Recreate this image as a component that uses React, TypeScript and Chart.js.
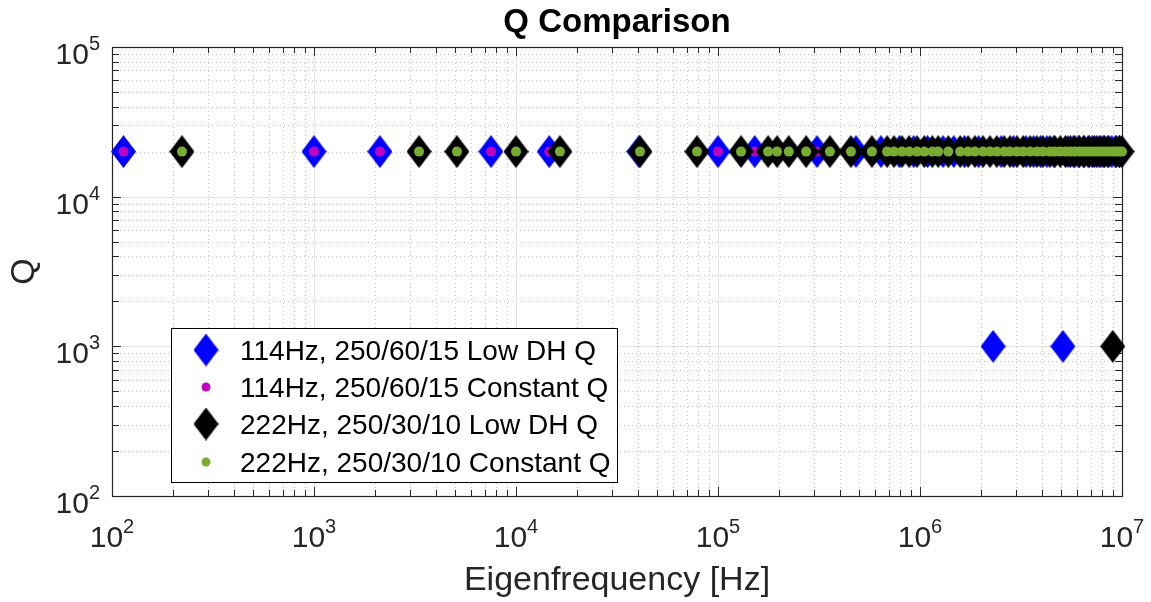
import React, { useEffect, useRef } from "react";
import { Chart, registerables } from "chart.js";

Chart.register(...registerables);

// ---------- DATA ----------
const seriesLabels = [
  "114Hz, 250/60/15 Low DH Q",
  "114Hz, 250/60/15 Constant Q",
  "222Hz, 250/30/10 Low DH Q",
  "222Hz, 250/30/10 Constant Q",
];

// 114 Hz design: eigenfrequencies [Hz]
const freq114 = [
  114, 1000, 2120, 7520, 14600, 40600, 100000, 152000, 309000, 482000,
  641000, 790000, 930000, 1090000, 1300000, 1470000, 1660000, 1950000, 2300000, 2520000,
  2900000, 3350000, 3650000, 3950000, 4250000, 4600000, 5100000, 5400000, 5750000, 6100000,
  6500000, 6900000, 7300000, 7700000, 8100000, 8500000, 8900000, 9300000, 9700000,
];
const qLow114 = [
  20000, 20000, 20000, 20000, 20000, 20000, 20000, 20000, 20000, 20000,
  20000, 20000, 20000, 20000, 20000, 20000, 20000, 20000, 1000, 20000,
  20000, 20000, 20000, 20000, 20000, 20000, 1000, 20000, 20000, 20000,
  20000, 20000, 20000, 20000, 20000, 20000, 20000, 20000, 20000,
];
const qConst114 = [
  20000, 20000, 20000, 20000, 20000, 20000, 20000, 20000, 20000, 20000,
  20000, 20000, 20000, 20000, 20000, 20000, 20000, 20000, 20000, 20000,
  20000, 20000, 20000, 20000, 20000, 20000, 20000, 20000, 20000, 20000,
  20000, 20000, 20000, 20000, 20000, 20000, 20000, 20000, 20000,
];

// 222 Hz design: eigenfrequencies [Hz]
const freq222 = [
  222, 3310, 5100, 10000, 16500, 41100, 78700, 130000, 177000, 196000,
  224000, 273000, 358000, 455000, 578000, 687000, 743000, 814000, 883000, 966000,
  1050000, 1150000, 1230000, 1380000, 1580000, 1730000, 1870000, 2050000, 2220000, 2400000,
  2610000, 2790000, 3020000, 3240000, 3510000, 3790000, 4060000, 4400000, 4650000, 4950000,
  5250000, 5550000, 5850000, 6150000, 6450000, 6800000, 7150000, 7500000, 7850000, 8200000,
  8600000, 9000000, 9350000, 9700000, 10000000,
];
const qLow222 = [
  20000, 20000, 20000, 20000, 20000, 20000, 20000, 20000, 20000, 20000,
  20000, 20000, 20000, 20000, 20000, 20000, 20000, 20000, 20000, 20000,
  20000, 20000, 20000, 20000, 20000, 20000, 20000, 20000, 20000, 20000,
  20000, 20000, 20000, 20000, 20000, 20000, 20000, 20000, 20000, 20000,
  20000, 20000, 20000, 20000, 20000, 20000, 20000, 20000, 20000, 20000,
  20000, 1000, 20000, 20000, 20000,
];
const qConst222 = [
  20000, 20000, 20000, 20000, 20000, 20000, 20000, 20000, 20000, 20000,
  20000, 20000, 20000, 20000, 20000, 20000, 20000, 20000, 20000, 20000,
  20000, 20000, 20000, 20000, 20000, 20000, 20000, 20000, 20000, 20000,
  20000, 20000, 20000, 20000, 20000, 20000, 20000, 20000, 20000, 20000,
  20000, 20000, 20000, 20000, 20000, 20000, 20000, 20000, 20000, 20000,
  20000, 20000, 20000, 20000, 20000,
];

// axis tick exponents (labels 10^n)
const xTickExps = [2, 3, 4, 5, 6, 7];
const yTickExps = [2, 3, 4, 5];
const titleText = "Q Comparison";
const xTitle = "Eigenfrequency [Hz]";
const yTitle = "Q";

// ---------- STYLE ----------
const FONT = '"Liberation Sans", Arial, Helvetica, sans-serif';
const BLUE = "#0000FF";
const MAGENTA = "#BF00BF";
const BLACK = "#000000";
const GREEN = "#77AC30";
const AXIS = "#262626";

function makeDiamond(color: string, w: number, h: number) {
  const c = document.createElement("canvas");
  c.width = w;
  c.height = h;
  const g = c.getContext("2d")!;
  g.fillStyle = color;
  g.beginPath();
  g.moveTo(w / 2, 0);
  g.lineTo(w, h / 2);
  g.lineTo(w / 2, h);
  g.lineTo(0, h / 2);
  g.closePath();
  g.fill();
  return c;
}

function drawPow(ctx: CanvasRenderingContext2D, exp: number, xRef: number, baseY: number, mode: "center" | "right") {
  ctx.font = `30px ${FONT}`;
  const w1 = ctx.measureText("10").width;
  ctx.font = `20px ${FONT}`;
  const w2 = ctx.measureText(String(exp)).width;
  const total = w1 + w2;
  const x0 = mode === "center" ? xRef - total / 2 : xRef - total;
  ctx.textAlign = "left";
  ctx.textBaseline = "alphabetic";
  ctx.fillStyle = AXIS;
  ctx.font = `30px ${FONT}`;
  ctx.fillText("10", x0, baseY);
  ctx.font = `20px ${FONT}`;
  ctx.fillText(String(exp), x0 + w1, baseY - 14);
}

export default function App() {
  const ref = useRef<HTMLCanvasElement | null>(null);

  useEffect(() => {
    if (!ref.current) return;
    const dBlue = makeDiamond(BLUE, 25, 33);
    const dBlack = makeDiamond(BLACK, 25, 33);

    const matlabPlugin = {
      id: "matlabAxes",
      beforeDatasetsDraw(chart: any) {
        const { ctx, chartArea: a, scales } = chart;
        const x = scales.x;
        const y = scales.y;
        ctx.save();
        // minor grid (dotted)
        ctx.lineWidth = 1;
        ctx.strokeStyle = "#c8c8c8";
        ctx.setLineDash([1, 3]);
        for (let e = xTickExps[0]; e < xTickExps[xTickExps.length - 1]; e++) {
          for (let m = 2; m <= 9; m++) {
            const px = Math.round(x.getPixelForValue(m * Math.pow(10, e))) + 0.5;
            ctx.beginPath();
            ctx.moveTo(px, a.top);
            ctx.lineTo(px, a.bottom);
            ctx.stroke();
          }
        }
        for (let e = yTickExps[0]; e < yTickExps[yTickExps.length - 1]; e++) {
          for (let m = 2; m <= 9; m++) {
            const py = Math.round(y.getPixelForValue(m * Math.pow(10, e))) + 0.5;
            ctx.beginPath();
            ctx.moveTo(a.left, py);
            ctx.lineTo(a.right, py);
            ctx.stroke();
          }
        }
        // major grid (solid)
        ctx.setLineDash([]);
        ctx.strokeStyle = "#e2e2e2";
        xTickExps.forEach((e) => {
          const px = Math.round(x.getPixelForValue(Math.pow(10, e))) + 0.5;
          ctx.beginPath();
          ctx.moveTo(px, a.top);
          ctx.lineTo(px, a.bottom);
          ctx.stroke();
        });
        yTickExps.forEach((e) => {
          const py = Math.round(y.getPixelForValue(Math.pow(10, e))) + 0.5;
          ctx.beginPath();
          ctx.moveTo(a.left, py);
          ctx.lineTo(a.right, py);
          ctx.stroke();
        });
        // axes box
        ctx.strokeStyle = AXIS;
        ctx.lineWidth = 1.2;
        ctx.strokeRect(a.left + 0.5, a.top + 0.5, a.right - a.left, a.bottom - a.top);
        // ticks
        ctx.lineWidth = 1;
        const tickX = (v: number, len: number) => {
          const px = Math.round(x.getPixelForValue(v)) + 0.5;
          ctx.beginPath();
          ctx.moveTo(px, a.bottom);
          ctx.lineTo(px, a.bottom - len);
          ctx.moveTo(px, a.top);
          ctx.lineTo(px, a.top + len);
          ctx.stroke();
        };
        const tickY = (v: number, len: number) => {
          const py = Math.round(y.getPixelForValue(v)) + 0.5;
          ctx.beginPath();
          ctx.moveTo(a.left, py);
          ctx.lineTo(a.left + len, py);
          ctx.moveTo(a.right, py);
          ctx.lineTo(a.right - len, py);
          ctx.stroke();
        };
        xTickExps.forEach((e) => tickX(Math.pow(10, e), 9));
        for (let e = xTickExps[0]; e < xTickExps[xTickExps.length - 1]; e++)
          for (let m = 2; m <= 9; m++) tickX(m * Math.pow(10, e), 6);
        yTickExps.forEach((e) => tickY(Math.pow(10, e), 9));
        for (let e = yTickExps[0]; e < yTickExps[yTickExps.length - 1]; e++)
          for (let m = 2; m <= 9; m++) tickY(m * Math.pow(10, e), 7);
        ctx.restore();
      },
      afterDatasetsDraw(chart: any) {
        const { ctx, chartArea: a, scales } = chart;
        const x = scales.x;
        const y = scales.y;
        ctx.save();
        // tick labels
        xTickExps.forEach((e) => {
          drawPow(ctx, e, x.getPixelForValue(Math.pow(10, e)), a.bottom + 51, "center");
        });
        yTickExps.forEach((e) => {
          drawPow(ctx, e, a.left - 12, y.getPixelForValue(Math.pow(10, e)) + 17, "right");
        });
        // title
        const cx = (a.left + a.right) / 2;
        ctx.fillStyle = "#000";
        ctx.textAlign = "center";
        ctx.textBaseline = "alphabetic";
        ctx.font = `bold 33px ${FONT}`;
        ctx.fillText(titleText, cx, 32);
        // x title
        ctx.fillStyle = AXIS;
        ctx.font = `34px ${FONT}`;
        ctx.fillText(xTitle, cx, 590);
        // y title
        ctx.save();
        ctx.translate(34, (a.top + a.bottom) / 2);
        ctx.rotate(-Math.PI / 2);
        ctx.fillText(yTitle, 0, 0);
        ctx.restore();

        // legend
        const lx = 171, ly = 328, lw = 446, lh = 154;
        ctx.fillStyle = "#fff";
        ctx.fillRect(lx, ly, lw, lh);
        ctx.strokeStyle = "#000";
        ctx.lineWidth = 1;
        ctx.strokeRect(lx + 0.5, ly + 0.5, lw, lh);
        const rows = [350, 387, 424, 462];
        const markers = ["dBlue", "dotM", "dBlack", "dotG"];
        rows.forEach((ry, i) => {
          const mk = markers[i];
          if (mk === "dBlue") ctx.drawImage(dBlue, 206 - 12.5, ry - 16.5);
          else if (mk === "dBlack") ctx.drawImage(dBlack, 206 - 12.5, ry - 16.5);
          else {
            ctx.fillStyle = mk === "dotM" ? MAGENTA : GREEN;
            ctx.beginPath();
            ctx.arc(206, ry, 4.5, 0, Math.PI * 2);
            ctx.fill();
          }
          ctx.fillStyle = "#000";
          ctx.textAlign = "left";
          ctx.font = `28px ${FONT}`;
          ctx.fillText(seriesLabels[i], 240, ry + 10);
        });
        ctx.restore();
      },
    };

    const chart = new Chart(ref.current, {
      type: "scatter",
      data: {
        datasets: [
          {
            label: seriesLabels[0],
            data: freq114.map((f, i) => ({ x: f, y: qLow114[i] })),
            pointStyle: dBlue as any,
            pointRadius: 12,
            backgroundColor: BLUE,
            borderWidth: 0,
            order: 4,
            clip: false as any,
          },
          {
            label: seriesLabels[1],
            data: freq114.map((f, i) => ({ x: f, y: qConst114[i] })),
            pointStyle: "circle",
            pointRadius: 5,
            backgroundColor: MAGENTA,
            borderWidth: 0,
            order: 3,
            clip: false as any,
          },
          {
            label: seriesLabels[2],
            data: freq222.map((f, i) => ({ x: f, y: qLow222[i] })),
            pointStyle: dBlack as any,
            pointRadius: 12,
            backgroundColor: BLACK,
            borderWidth: 0,
            order: 2,
            clip: false as any,
          },
          {
            label: seriesLabels[3],
            data: freq222.map((f, i) => ({ x: f, y: qConst222[i] })),
            pointStyle: "circle",
            pointRadius: 5,
            backgroundColor: GREEN,
            borderWidth: 0,
            order: 1,
            clip: false as any,
          },
        ],
      },
      options: {
        responsive: false,
        animation: false,
        layout: { padding: { left: 112, right: 29, top: 47, bottom: 106 } },
        scales: {
          x: { type: "logarithmic", min: 100, max: 1e7, display: false },
          y: { type: "logarithmic", min: 100, max: 1e5, display: false },
        },
        plugins: {
          legend: { display: false },
          title: { display: false },
          tooltip: { enabled: false },
        },
        events: [],
      },
      plugins: [matlabPlugin],
    });
    return () => chart.destroy();
  }, []);

  return (
    <div style={{ position: "fixed", left: 0, top: 0, width: 1151, height: 602, background: "#fff" }}>
      <canvas ref={ref} width={1151} height={602} style={{ width: 1151, height: 602, display: "block" }} />
    </div>
  );
}
